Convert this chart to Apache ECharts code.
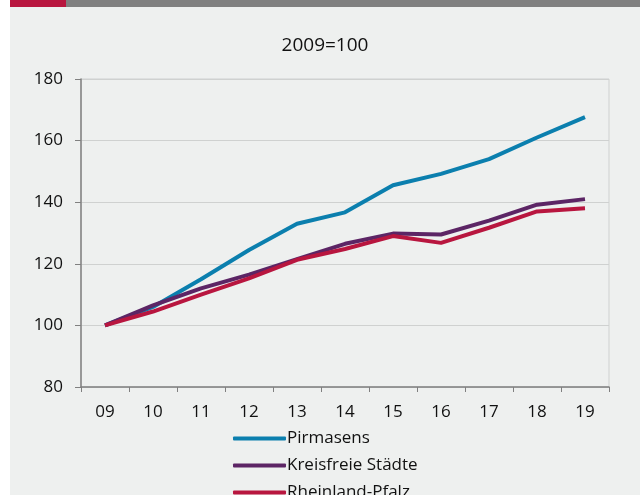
<!DOCTYPE html>
<html>
<head>
<meta charset="utf-8">
<script src="https://cdn.jsdelivr.net/npm/echarts@6/dist/echarts.min.js"></script>
<style>
    body { margin: 0; background: #fff; width: 640px; height: 495px; overflow: hidden; position: relative; }
    .strip-red { position: absolute; left: 10px; top: 0; width: 56px; height: 7px; background: #b8163f; }
    .strip-gray { position: absolute; left: 66px; top: 0; width: 574px; height: 7px; background: #808080; }
    /* taller than the window so the legend's third row is cut like in the original */
    #main { position: absolute; left: 10px; top: 7px; width: 630px; height: 540px; background: #eef0ef; }
</style>
</head>
<body>
<div class="strip-red"></div>
<div class="strip-gray"></div>
<div id="main"></div>
<script>
    var years = ['09', '10', '11', '12', '13', '14', '15', '16', '17', '18', '19'];
    var pirmasens = [100, 106, 115, 124.5, 133, 136.7, 145.5, 149.2, 154, 161, 167.6];
    var kreisfreie = [100, 106.5, 112, 116.5, 121.5, 126.5, 129.8, 129.5, 134, 139.2, 141];
    var rheinland = [100, 104.5, 110, 115.3, 121.3, 124.8, 129, 126.8, 131.7, 137, 138];
    var yTicks = { min: 80, max: 180, interval: 20 };

    var font = 'Open Sans';
    var main = echarts.init(document.getElementById('main'));

    function line(name, data, color) {
        return {
            name: name,
            type: 'line',
            data: data,
            symbol: 'none',
            lineStyle: { color: color, width: 4 },
            itemStyle: { color: color }
        };
    }

    var option = {
        animation: false,
        textStyle: { fontFamily: font },
        title: {
            text: '2009=100',
            left: 'center',
            top: 24,
            textStyle: { fontSize: 19, fontWeight: 'normal', color: '#111', fontFamily: font }
        },
        grid: {
            left: 71,
            right: 31,
            top: 72,
            bottom: 160,
            show: true,
            borderColor: '#cfd1d0',
            borderWidth: 1
        },
        legend: {
            orient: 'vertical',
            left: 218,
            top: 417,
            icon: 'roundRect',
            itemWidth: 53,
            itemHeight: 4,
            itemGap: 8,
            textStyle: { fontSize: 17, color: '#111', fontFamily: font, lineHeight: 19, padding: [0, 0, 0, -4] },
            data: ['Pirmasens', 'Kreisfreie Städte', 'Rheinland-Pfalz']
        },
        xAxis: {
            type: 'category',
            data: years,
            boundaryGap: true,
            axisLine: { lineStyle: { color: '#808080', width: 1.5 } },
            axisTick: { show: true, length: 5, lineStyle: { color: '#808080' } },
            axisLabel: { fontSize: 17, color: '#111', margin: 17, fontFamily: font }
        },
        yAxis: {
            type: 'value',
            min: yTicks.min,
            max: yTicks.max,
            interval: yTicks.interval,
            axisLine: { show: true, lineStyle: { color: '#808080', width: 1.5 } },
            axisTick: { show: true, length: 6, lineStyle: { color: '#808080' } },
            axisLabel: { fontSize: 17, color: '#111', margin: 18, fontFamily: font },
            splitLine: { lineStyle: { color: '#cfd1d0', width: 1 } }
        },
        series: [
            line('Pirmasens', pirmasens, '#0b7fae'),
            line('Kreisfreie Städte', kreisfreie, '#5c2565'),
            line('Rheinland-Pfalz', rheinland, '#b8163f')
        ]
    };

    main.setOption(option);
</script>
</body>
</html>
